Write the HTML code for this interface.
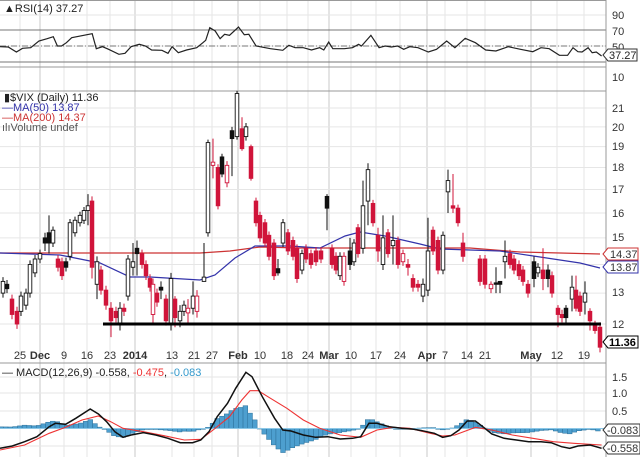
<!DOCTYPE html>
<html><head><meta charset="utf-8">
<style>
html,body{margin:0;padding:0;background:#fff;}
svg{display:block;font-family:"Liberation Sans",sans-serif;}
</style></head><body>
<svg id="s" width="640" height="457" viewBox="0 0 640 457" xmlns="http://www.w3.org/2000/svg">
<rect width="640" height="457" fill="#fff"/>
<g id="grid"></g>
<!-- RSI panel -->
<line x1="0" y1="30" x2="606" y2="30" stroke="#777" stroke-width="1"/>
<line x1="0" y1="46" x2="606" y2="46" stroke="#777" stroke-width="1" stroke-dasharray="6,2,1,2"/>
<line x1="0" y1="62" x2="606" y2="62" stroke="#777" stroke-width="1"/>
<line x1="0" y1="0.5" x2="606" y2="0.5" stroke="#999"/>
<line x1="0" y1="67" x2="606" y2="67" stroke="#999"/>
<line x1="0" y1="91" x2="606" y2="91" stroke="#999"/>
<line x1="0" y1="363" x2="606" y2="363" stroke="#999"/>
<line x1="606" y1="0" x2="606" y2="457" stroke="#999"/>
<g id="rsi"></g>
<g id="main"></g>
<g id="macd"></g>
<g font-size="11" fill="#333">
<text x="612" y="19">90</text><text x="612" y="35">70</text><text x="612" y="51">50</text><text x="612" y="81">10</text>
<text x="612" y="112">21</text><text x="612" y="131">20</text><text x="612" y="150">19</text><text x="612" y="171">18</text>
<text x="612" y="193">17</text><text x="612" y="217">16</text><text x="612" y="241">15</text><text x="612" y="296">13</text><text x="612" y="328">12</text>
<text x="612" y="381">1.5</text><text x="612" y="397">1.0</text><text x="612" y="415">0.5</text>
</g>
<g font-size="11">
<path d="M603 55 l5 -6 h29 v12 h-29 z" fill="#fff" stroke="#333"/><text x="609" y="59" fill="#222">37.27</text>
<path d="M603 254 l5 -6 h30 v12 h-30 z" fill="#fff" stroke="#c33"/><text x="610" y="258" fill="#333">14.37</text>
<path d="M603 267 l5 -6 h30 v12 h-30 z" fill="#fff" stroke="#33a"/><text x="610" y="271" fill="#333">13.87</text>
<path d="M603 342 l5 -6 h30 v12 h-30 z" fill="#fff" stroke="#000"/><text x="609" y="346" fill="#000" font-weight="bold">11.36</text>
<path d="M603 430 l5 -6 h32 v12 h-32 z" fill="#fff" stroke="#333"/><text x="607" y="434" fill="#333">-0.083</text>
<path d="M603 448 l5 -6 h32 v12 h-32 z" fill="#fff" stroke="#333"/><text x="607" y="452" fill="#333">-0.558</text>
</g>
<g font-size="11" fill="#222">
<text x="4" y="12">▲RSI(14) 37.27</text>
<text x="4" y="101">▮$VIX (Daily) 11.36</text>
<text x="2" y="111" fill="#33a">—MA(50) 13.87</text>
<text x="2" y="121" fill="#c33">—MA(200) 14.37</text>
<text x="2" y="131" fill="#555">ılıVolume undef</text>
<text x="2" y="376">— MACD(12,26,9) -0.558, <tspan fill="#e33">-0.475</tspan>, <tspan fill="#39c">-0.083</tspan></text>
</g>
<g id="dates" font-size="11" fill="#333" text-anchor="middle"></g>
</svg>
<script>
const NS="http://www.w3.org/2000/svg";
function el(p,t,a){const e=document.createElementNS(NS,t);for(const k in a)e.setAttribute(k,a[k]);document.getElementById(p).appendChild(e);return e;}
const Y=v=>324-386*Math.log(v/12);
// grid
const dates=[[20,"25"],[40,"Dec",1],[64,"9"],[87,"16"],[110,"23"],[135,"2014",1],[172,"13"],[194,"21"],[212,"27"],[238,"Feb",1],[260,"10"],[287,"18"],[308,"24"],[329,"Mar",1],[351,"10"],[376,"17"],[400,"24"],[427,"Apr",1],[445,"7"],[467,"14"],[485,"21"],[531,"May",1],[557,"12"],[584,"19"]];
dates.forEach(d=>{
 el("grid","line",{x1:d[0],x2:d[0],y1:0,y2:457,stroke:d[2]?"#c8c8c8":"#e6e6e6"});
 const t=el("dates","text",{x:d[0],y:359});t.textContent=d[1];if(d[2])t.setAttribute("font-weight","bold");
});
[15,30,46,62].forEach(y=>el("grid","line",{x1:0,x2:606,y1:y,y2:y,stroke:"#e6e6e6"}));
[21,20,19,18,17,16,15,14,13,12].forEach(v=>el("grid","line",{x1:0,x2:606,y1:Y(v),y2:Y(v),stroke:"#e6e6e6"}));
[377,393,411,428.5,446].forEach(y=>el("grid","line",{x1:0,x2:606,y1:y,y2:y,stroke:"#e6e6e6"}));
// RSI
const R=[[0,142],[20,143],[40,158],[55,147],[75,145],[95,125],[115,118],[130,112],[140,140],[150,140],[162,130],[175,115],[225,103],[235,148],[250,142],[265,150],[290,165],[305,162],[320,142],[340,135],[355,140],[370,152],[395,153],[410,162],[420,142],[435,160],[455,152],[480,145],[495,130],[502,123],[512,85],[525,95],[537,118],[548,105],[560,108],[582,83],[596,106],[607,105],[625,140],[660,148],[690,153],[705,138],[720,145],[740,145],[760,152],[780,145],[790,152],[802,128],[812,148],[840,148],[860,145],[875,135],[882,140],[905,108],[925,145],[940,140],[955,143],[970,140],[985,150],[1000,142],[1020,145],[1045,158],[1065,150],[1090,125],[1110,145],[1135,117],[1160,130],[1185,152],[1210,155],[1240,142],[1270,150],[1300,157],[1320,145],[1340,148],[1365,168],[1385,168],[1398,145],[1410,157],[1420,158],[1435,145],[1445,160],[1455,158],[1468,170]];
el("rsi","polyline",{points:R.map(p=>(p[0]/2.44).toFixed(1)+","+(30+(p[1]-92)/3).toFixed(1)).join(" "),fill:"none",stroke:"#222","stroke-width":1.2});
// MAs
const m200=[[0,253],[100,253],[200,253],[230,251],[260,247],[300,248],[470,248],[520,252],[600,254]];
const m50=[[0,253],[60,255],[100,263],[130,277],[150,277],[200,280],[215,275],[235,258],[255,246],[290,246],[320,248],[345,236],[360,232],[385,236],[420,244],[440,249],[500,251],[540,257],[580,263],[600,268]];
el("main","polyline",{points:m200.map(p=>p.join(",")).join(" "),fill:"none",stroke:"#c33","stroke-width":1.2});
el("main","polyline",{points:m50.map(p=>p.join(",")).join(" "),fill:"none",stroke:"#33a","stroke-width":1.2});
// candles [x, lo, hi, type, wickLo, wickHi]
const C=[[3,13.0,13.4,'w'],[7,13.15,13.3,'b'],[12,12.3,12.8,'r'],[17,12.0,12.4,'r'],[21,12.4,12.9,'w'],[26,12.6,13.0,'w'],[30,13.0,14.0,'w'],[35,13.7,14.2,'w'],[40,14.2,14.4,'w'],[45,14.8,15.0,'b',14.5,15.2],[49,14.8,15.2,'b',14.4,15.9],[53,14.8,15.3,'w'],[58,13.9,14.2,'r'],[62,13.6,14.1,'r'],[66,13.9,14.1,'b'],[70,14.3,15.6,'w'],[75,15.2,15.7,'w'],[80,15.6,15.9,'w'],[84,15.7,16.1,'w'],[88,16.1,16.3,'w',15.5,16.8],[92,13.9,16.5,'r',13.5,16.7],[97,13.3,14.1,'w',12.8,14.3],[101,13.1,13.8,'r'],[106,12.6,13.1,'r'],[111,12.1,12.5,'r',11.6,12.7],[116,12.2,12.4,'r'],[120,12.0,12.5,'w',11.8,12.7],[124,12.4,12.5,'r'],[128,12.9,14.2,'w'],[133,13.9,14.1,'w',13.6,14.8],[137,14.4,14.6,'b',13.6,14.9],[142,14.0,14.4,'r'],[146,13.6,14.0,'r'],[150,13.2,13.5,'r'],[153,12.3,13.3,'h',12.0,13.5],[157,12.7,13.0,'r'],[161,13.1,13.2,'b',12.8,13.4],[166,12.1,12.8,'r'],[171,12.0,13.5,'w',11.8,13.7],[175,12.2,12.8,'r',11.9,12.9],[180,12.1,12.4,'w',11.9,12.6],[184,12.4,12.6,'w'],[188,12.35,12.5,'h',12.0,12.8],[193,12.5,12.9,'w',12.3,13.4],[197,12.4,12.9,'h',12.2,13.1],[204,13.4,13.55,'w',13.4,14.8],[208,15.2,19.2,'w'],[213,18.1,18.25,'h',17.5,19.4],[218,16.3,18.0,'r'],[222,17.7,18.5,'b'],[227,17.3,18.1,'h',17.1,18.3],[232,19.4,19.8,'b',17.6,20.0],[237,19.5,21.8,'w'],[242,18.9,19.9,'r',18.8,20.5],[246,19.5,20.0,'w',19.3,20.2],[251,17.5,19.0,'r',17.4,19.1],[256,15.6,16.5,'r'],[260,15.0,15.9,'r'],[265,14.8,15.6,'r'],[269,14.3,15.1,'r'],[274,13.6,14.8,'r'],[278,13.7,13.85,'b',13.6,14.2],[283,14.8,15.6,'w'],[288,14.5,15.2,'r'],[293,14.3,14.9,'r'],[297,13.5,14.6,'r'],[302,13.8,14.4,'w'],[306,14.2,14.6,'r'],[311,14.0,14.4,'r'],[316,14.1,14.5,'r'],[321,14.2,14.5,'r'],[327,16.2,16.7,'b',15.3,16.8],[332,14.0,14.6,'r'],[336,13.8,14.3,'r'],[340,13.6,14.3,'w'],[344,13.4,14.3,'h'],[350,14.0,14.5,'b',13.8,15.0],[354,14.1,14.8,'w'],[358,14.4,15.4,'r'],[363,14.6,16.3,'w',14.4,17.4],[368,16.5,17.9,'w',15.5,18.2],[373,15.6,16.4,'r'],[378,14.5,15.1,'r',14.1,15.4],[383,14.0,15.0,'w',13.8,15.9],[388,14.4,15.2,'r'],[393,14.7,14.9,'w',14.0,15.9],[398,14.0,14.9,'r'],[403,14.1,14.4,'h'],[408,13.9,14.0,'r',13.6,14.2],[413,13.2,13.5,'r'],[418,13.2,13.3,'r'],[423,12.9,13.3,'w',12.7,13.5],[428,13.1,14.5,'w',12.9,15.8],[433,14.5,15.3,'r'],[438,13.8,14.9,'r'],[443,13.8,15.1,'w'],[448,16.9,17.4,'w',16.0,17.9],[453,16.2,16.3,'r',16.0,17.7],[458,15.6,16.2,'r'],[463,14.3,14.8,'r',14.1,15.2],[480,13.4,14.2,'r'],[485,13.3,14.2,'r'],[491,13.15,13.3,'h',13.0,13.4],[496,13.3,13.35,'b',13.0,13.9],[500,13.3,13.4,'b',13.0,13.4],[505,14.1,14.3,'w',13.5,14.9],[510,14.0,14.4,'r'],[514,13.8,14.2,'r'],[519,13.6,14.0,'r'],[523,13.4,13.8,'r'],[528,13.0,13.3,'r'],[534,13.5,14.1,'b',13.2,14.3],[538,13.7,13.9,'w'],[543,13.5,13.8,'r',13.1,14.6],[548,13.5,13.8,'b',13.2,14.0],[552,13.0,13.6,'r'],[558,12.3,12.5,'r',11.9,12.6],[562,12.2,12.3,'r'],[566,12.2,12.5,'b',12.0,12.6],[572,12.8,13.2,'w',12.4,13.6],[576,12.5,13.1,'r',12.4,13.6],[580,12.4,12.9,'r'],[585,12.7,13.0,'w',12.3,13.4],[590,12.1,12.4,'r',11.8,12.5],[595,11.8,12.0,'r',11.7,12.1],[600,11.3,11.9,'r']];
C.forEach(c=>{
 const [x,lo,hi,t]=c;const wl=c[4]||lo-0.15,wh=c[5]||hi+0.15;
 const col=(t=='r'||t=='h')?"#d0143a":"#111";
 el("main","line",{x1:x,x2:x,y1:Y(wh),y2:Y(wl),stroke:col,"stroke-width":1});
 const y1=Y(hi),y2=Y(lo);
 el("main","rect",{x:x-1.8,y:y1,width:3.6,height:Math.max(1.2,y2-y1),fill:(t=='w'||t=='h')?"#fff":col,stroke:col,"stroke-width":0.9});
});
el("main","line",{x1:103,x2:601,y1:324,y2:324,stroke:"#000","stroke-width":3});
// MACD
const M=[[0,325],[30,318],[60,305],[90,290],[120,260],[135,250],[160,253],[185,235],[220,207],[240,222],[260,245],[280,275],[300,292],[320,285],[350,278],[380,285],[410,295],[440,308],[470,308],[490,300],[510,275],[530,230],[555,190],[575,145],[600,97],[615,110],[640,170],[670,235],[690,270],[710,273],[740,285],[770,292],[800,290],[830,297],[860,295],[880,290],[900,250],[920,250],[950,260],[980,265],[1010,268],[1030,272],[1060,280],[1080,292],[1100,287],[1120,270],[1140,243],[1160,243],[1180,262],[1200,282],[1230,295],[1260,300],[1290,305],[1320,305],[1345,308],[1370,320],[1390,325],[1410,318],[1440,315],[1468,325]];
const S=[[0,330],[60,315],[120,280],[160,262],[200,240],[240,228],[270,245],[300,265],[350,275],[400,287],[450,300],[490,298],[520,270],[560,230],[590,180],[610,152],[630,152],[660,175],[700,205],[740,240],[780,265],[830,285],[880,292],[920,270],[960,262],[1000,265],[1050,280],[1080,288],[1110,285],[1160,262],[1200,270],[1250,285],[1300,295],[1350,305],[1400,310],[1468,315]];
const tx=p=>[p[0]/2.44,340+p[1]/3];
const Mp=M.map(tx),Sp=S.map(tx);
function interp(P,x){for(let i=0;i<P.length-1;i++){if(x>=P[i][0]&&x<=P[i+1][0]){const f=(x-P[i][0])/(P[i+1][0]-P[i][0]);return P[i][1]+f*(P[i+1][1]-P[i][1]);}}return P[P.length-1][1];}
const Z=428.5;
for(let x=1;x<602;x+=4.7){
 const h=(interp(Sp,x)-interp(Mp,x));
 const top=Math.min(Z,Z-h),ht=Math.abs(h);
 el("macd","rect",{x:x-2.35,y:top,width:4.7,height:Math.max(0.8,ht),fill:"#4d9fcf",stroke:"#2a6f99","stroke-width":0.5});
}
el("macd","line",{x1:0,x2:606,y1:Z,y2:Z,stroke:"#8cc7e6","stroke-width":1});
el("macd","polyline",{points:Sp.map(p=>p[0].toFixed(1)+","+p[1].toFixed(1)).join(" "),fill:"none",stroke:"#e33","stroke-width":1.1});
el("macd","polyline",{points:Mp.map(p=>p[0].toFixed(1)+","+p[1].toFixed(1)).join(" "),fill:"none",stroke:"#111","stroke-width":1.5});
</script>
</body></html>
